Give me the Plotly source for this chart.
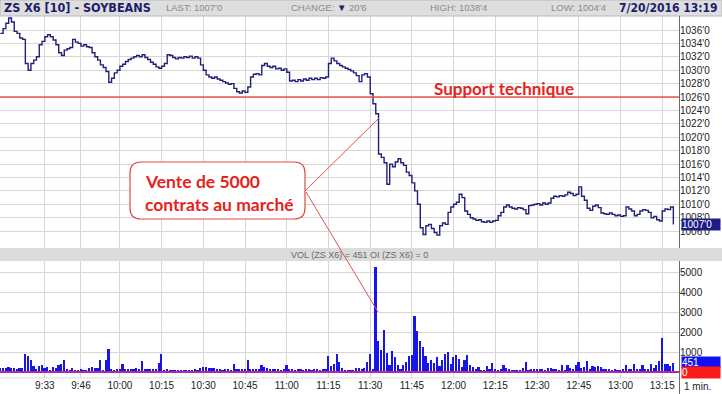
import plotly.graph_objects as go
import pandas as pd

W, H = 722, 394

# ---------------- data (1-minute bars, 20 Jul 2016) ----------------
start_time = "2016-07-20 09:17"
close_prices = [
    1035.5, 1036.2, 1037.0, 1037.8, 1037.2, 1035.8, 1035.5, 1034.8, 1034.6, 1031.0,  # 9:17
    1030.0, 1031.0, 1031.5, 1032.0, 1033.8, 1034.3, 1035.0, 1035.3, 1035.0, 1034.5,  # 9:27
    1033.8, 1032.6, 1032.2, 1033.0, 1033.2, 1033.4, 1034.6, 1034.2, 1034.0, 1033.6,  # 9:37
    1033.8, 1033.5, 1033.4, 1032.6, 1032.0, 1031.5, 1030.8, 1030.4, 1029.8, 1028.2,  # 9:47
    1028.8, 1029.6, 1030.0, 1030.6, 1030.9, 1031.3, 1031.6, 1031.8, 1032.0, 1032.2,  # 9:57
    1032.0, 1032.3, 1031.9, 1031.6, 1031.2, 1030.9, 1030.5, 1030.3, 1030.6, 1031.0,  # 10:07
    1032.3, 1032.2, 1031.9, 1031.7, 1031.9, 1031.8, 1032.0, 1031.9, 1032.1, 1031.8,  # 10:17
    1032.0, 1031.8, 1030.8, 1030.0, 1029.3, 1029.0, 1028.8, 1029.0, 1028.7, 1028.5,  # 10:27
    1028.3, 1028.1, 1027.9, 1028.0, 1027.3, 1026.8, 1026.6, 1026.9, 1026.7, 1027.5,  # 10:37
    1029.0, 1029.4, 1029.5, 1029.3, 1030.7, 1031.0, 1030.6, 1030.4, 1030.6, 1030.2,  # 10:47
    1030.3, 1030.0, 1030.2, 1029.7, 1028.4, 1028.5, 1028.3, 1028.6, 1028.4, 1028.7,  # 10:57
    1028.5, 1028.8, 1028.6, 1028.8, 1028.6, 1028.9, 1028.8, 1029.0, 1031.0, 1031.8,  # 11:07
    1031.4, 1031.0, 1030.7, 1030.5, 1030.3, 1030.1, 1029.9, 1029.6, 1029.2, 1028.3,  # 11:17
    1029.3, 1029.5, 1029.0, 1026.5, 1025.0, 1023.5, 1017.5, 1017.0, 1016.2, 1013.0,  # 11:27
    1016.0, 1015.6, 1016.3, 1016.8, 1016.2, 1015.8, 1014.8, 1014.3, 1013.2, 1012.0,  # 11:37
    1010.0, 1006.5, 1005.5, 1006.8, 1007.0, 1006.4, 1005.8, 1005.4, 1006.8, 1007.2,  # 11:47
    1007.0, 1008.8, 1009.6, 1010.0, 1010.3, 1011.5, 1011.0, 1009.0, 1008.5, 1008.0,  # 11:57
    1007.8, 1007.6, 1007.7, 1007.4, 1007.3, 1007.5, 1007.3, 1007.5, 1007.6, 1008.3,  # 12:07
    1008.8, 1009.6, 1009.9, 1009.6, 1009.4, 1009.3, 1009.5, 1009.4, 1009.2, 1008.6,  # 12:17
    1009.8, 1009.9, 1010.0, 1010.1, 1009.9, 1010.2, 1010.0, 1010.2, 1010.9, 1011.2,  # 12:27
    1011.1, 1011.3, 1011.2, 1011.4, 1011.8, 1011.6, 1011.3, 1011.5, 1012.6, 1011.2,  # 12:37
    1010.6, 1009.4, 1009.1, 1009.7, 1009.9, 1009.5, 1008.7, 1008.6, 1008.5, 1008.7,  # 12:47
    1008.5, 1008.3, 1008.4, 1008.2, 1008.3, 1009.6, 1009.3, 1009.0, 1008.3, 1008.5,  # 12:57
    1009.0, 1009.2, 1009.1, 1008.8, 1008.0, 1008.2, 1007.7, 1007.5, 1009.0, 1009.3,  # 13:07
    1009.2, 1009.6, 1007.0,                                                          # 13:17
]
volumes = [
    180, 220, 200, 240, 180, 200, 170, 200, 210, 920,
    780, 580, 280, 170, 280, 330, 220, 250, 120, 250,
    220, 330, 380, 620, 170, 120, 200, 120, 110, 130,
    120, 110, 220, 230, 220, 200, 620, 120, 580, 1130,
    150, 120, 130, 170, 380, 170, 150, 170, 130, 220,
    150, 530, 150, 130, 170, 150, 160, 470, 920, 120,
    170, 120, 110, 100, 100, 120, 110, 100, 120, 110,
    130, 120, 220, 240, 260, 200, 220, 180, 130, 130,
    120, 170, 130, 120, 380, 140, 150, 130, 170, 580,
    150, 170, 130, 150, 330, 250, 200, 150, 170, 130,
    150, 120, 170, 330, 130, 150, 120, 130, 150, 120,
    150, 130, 120, 170, 130, 120, 150, 130, 800, 300,
    420, 920, 500, 220, 120, 100, 100, 110, 200, 200,
    150, 220, 500, 880, 170, 5230, 1530, 1080, 2080, 950,
    330, 1050, 750, 330, 170, 330, 500, 780, 830, 2790,
    2040, 1550, 1250, 780, 450, 580, 450, 750, 280, 580,
    880, 1000, 420, 750, 830, 670, 250, 580, 870, 330,
    250, 170, 250, 120, 80, 280, 170, 450, 130, 80,
    130, 330, 200, 150, 80, 80, 80, 80, 200, 500,
    80, 170, 170, 130, 150, 130, 80, 220, 220, 170,
    130, 120, 330, 120, 330, 220, 130, 330, 500, 200,
    250, 530, 170, 280, 250, 280, 250, 130, 130, 170,
    120, 170, 120, 80, 170, 330, 130, 170, 380, 130,
    170, 330, 130, 170, 380, 220, 330, 530, 1700, 420,
    380, 280, 451,
]
time_labels = ["9:33", "9:46", "10:00", "10:15", "10:30", "10:45", "11:00", "11:15",
               "11:30", "11:45", "12:00", "12:15", "12:30", "12:45", "13:00", "13:15"]
price_ticks = [1036, 1034, 1032, 1030, 1028, 1026, 1024, 1022, 1020, 1018,
               1016, 1014, 1012, 1010, 1008, 1006]
volume_ticks = [1000, 2000, 3000, 4000, 5000]
support_level = 1026
last_volume = 451
open_interest = 0

symbol_title = "ZS X6 [10] - SOYBEANS"
last_txt, change_txt, high_txt, low_txt = "1007'0", "20'6", "1038'4", "1004'4"
stamp_txt = "7/20/2016 13:19"

# ---------------- helpers ----------------
def fx(p):
    return p / W

def fy(p):
    return 1 - p / H

def quote(v):
    return f"{int(v)}'0"

times = pd.date_range(start_time, periods=len(close_prices), freq="min")
day = "2016-07-20 "
tickvals = [pd.Timestamp(day + t) for t in time_labels]
x_range = ["2016-07-20 09:16:53", "2016-07-20 13:21:02"]

RIGHT = 679
GRID = "#d7d7d7"
NAVY = "#202078"
AXFONT = dict(family="Liberation Sans, Arial, sans-serif", size=10, color="#222")

fig = go.Figure()
fig.add_trace(go.Scatter(
    x=times, y=close_prices, mode="lines",
    line=dict(color=NAVY, width=1.4, shape="hv"),
    xaxis="x", yaxis="y", hoverinfo="skip", showlegend=False))
fig.add_trace(go.Bar(
    x=times, y=volumes, width=36000,
    marker=dict(color="#1616ea", line_width=0),
    xaxis="x2", yaxis="y2", hoverinfo="skip", showlegend=False))

common_x = dict(domain=[0, fx(RIGHT)], type="date", range=x_range,
                tickvals=tickvals, ticktext=time_labels, showgrid=True,
                gridcolor=GRID, gridwidth=1, zeroline=False, ticks="",
                showline=False, tickfont=AXFONT)

fig.update_layout(
    width=W, height=H, margin=dict(l=0, r=0, t=0, b=0),
    paper_bgcolor="white", plot_bgcolor="white", bargap=0,
    xaxis=dict(common_x, anchor="y", showticklabels=False),
    xaxis2=dict(common_x, anchor="y2", showticklabels=True),
    yaxis=dict(domain=[fy(248), fy(16)], range=[1003.48, 1038.09], side="right",
               anchor="x", tickvals=price_ticks, ticktext=[quote(v) for v in price_ticks],
               showgrid=True, gridcolor=GRID, zeroline=False, ticks="",
               tickfont=AXFONT, showline=False),
    yaxis2=dict(domain=[fy(378), fy(261)], range=[-300, 5550], side="right",
                anchor="x2", tickvals=volume_ticks, ticktext=[str(v) for v in volume_ticks],
                showgrid=True, gridcolor=GRID, zeroline=False, ticks="",
                tickfont=AXFONT, showline=False),
)

# rounded callout box path (paper coordinates)
def rounded_rect(x0, y0, x1, y1, r):
    pts = [
        ("M", x0 + r, y0), ("L", x1 - r, y0), ("Q", x1, y0, x1, y0 + r),
        ("L", x1, y1 - r), ("Q", x1, y1, x1 - r, y1), ("L", x0 + r, y1),
        ("Q", x0, y1, x0, y1 - r), ("L", x0, y0 + r), ("Q", x0, y0, x0 + r, y0),
    ]
    out = []
    for p in pts:
        cmd = p[0]
        coords = p[1:]
        s = []
        for i in range(0, len(coords), 2):
            s.append(f"{fx(coords[i]):.5f},{fy(coords[i + 1]):.5f}")
        out.append(cmd + " ".join(s))
    return " ".join(out) + " Z"

shapes = [
    # header bar
    dict(type="rect", xref="paper", yref="paper", x0=0, x1=1, y0=fy(16), y1=1,
         fillcolor="#dedede", line=dict(color="#b8b8b8", width=1), layer="above"),
    # right axis line
    dict(type="line", xref="paper", yref="paper", x0=fx(RIGHT + 0.5), x1=fx(RIGHT + 0.5),
         y0=0, y1=fy(16), line=dict(color="#6a6a6a", width=1), layer="above"),
    # VOL separator bar
    dict(type="rect", xref="paper", yref="paper", x0=0, x1=1, y0=fy(261), y1=fy(248),
         fillcolor="#dcdcdc", line=dict(width=0), layer="above"),
    # bottom label-row line
    dict(type="line", xref="paper", yref="paper", x0=0, x1=fx(RIGHT), y0=fy(378), y1=fy(378),
         line=dict(color="#dcdcdc", width=1), layer="above"),
    # support line
    dict(type="line", xref="paper", yref="y", x0=0, x1=fx(RIGHT), y0=support_level,
         y1=support_level, line=dict(color="#e8554f", width=1.5), layer="above"),
    # OI line at zero
    dict(type="line", xref="paper", yref="y2", x0=0, x1=fx(RIGHT), y0=open_interest,
         y1=open_interest, line=dict(color="#b22a9c", width=2), layer="above"),
    # callout pointers
    dict(type="line", xref="paper", yref="paper", x0=fx(306), y0=fy(190), x1=fx(379), y1=fy(118),
         line=dict(color="#e05252", width=1), layer="above"),
    dict(type="line", xref="paper", yref="paper", x0=fx(306), y0=fy(192), x1=fx(378), y1=fy(312),
         line=dict(color="#e05252", width=1), layer="above"),
    # callout box
    dict(type="path", xref="paper", yref="paper", path=rounded_rect(130, 162, 305, 219, 11),
         fillcolor="white", line=dict(color="#e04848", width=1.2), layer="above"),
]
fig.update_layout(shapes=shapes)

HFONT = "Liberation Sans Narrow, DejaVu Sans Condensed, Arial Narrow, sans-serif"
GFONT = dict(family="Liberation Sans, Arial, sans-serif", size=9.5, color="#8a8a8a")
ann = [
    dict(text=f"<b>{symbol_title}</b>", x=fx(2), y=fy(8), xanchor="left",
         font=dict(family=HFONT, size=12.5, color="#1c1c6a")),
    dict(text=f"LAST: {last_txt}", x=fx(164), y=fy(8), xanchor="left", font=GFONT),
    dict(text=f"CHANGE: <span style='color:#1c1c6a'>▼</span> {change_txt}", x=fx(289), y=fy(8),
         xanchor="left", font=GFONT),
    dict(text=f"HIGH: {high_txt}", x=fx(428), y=fy(8), xanchor="left", font=GFONT),
    dict(text=f"LOW: {low_txt}", x=fx(549), y=fy(8), xanchor="left", font=GFONT),
    dict(text=f"<b>{stamp_txt}</b>", x=fx(720), y=fy(8), xanchor="right",
         font=dict(family=HFONT, size=12, color="#1c1c6a")),
    dict(text=f"VOL (ZS X6) = {last_volume} OI (ZS X6) = {open_interest}", x=fx(359), y=fy(254.5),
         xanchor="center", font=dict(family="Liberation Sans, Arial, sans-serif", size=9, color="#6a6a6a")),
    dict(text="<b>Support technique</b>", x=fx(432), y=fy(88), xanchor="left",
         font=dict(family="Lato, Open Sans, sans-serif", size=17, color="#e5231c")),
    dict(text="<b>Vente de 5000</b>", x=fx(143), y=fy(181.5), xanchor="left",
         font=dict(family="Lato, Open Sans, sans-serif", size=17.5, color="#e5231c")),
    dict(text="<b>contrats au marché</b>", x=fx(143), y=fy(205), xanchor="left",
         font=dict(family="Lato, Open Sans, sans-serif", size=17.5, color="#e5231c")),
    dict(text=last_txt, x=fx(681), y=close_prices[-1], yref="y", xanchor="left", align="left",
         width=38, borderpad=0, bgcolor="#1c1c84",
         font=dict(family="Liberation Sans, Arial, sans-serif", size=10, color="white")),
    dict(text=str(last_volume), x=fx(681), y=last_volume, yref="y2", xanchor="left", align="left",
         width=38, borderpad=0, bgcolor="#1010f0",
         font=dict(family="Liberation Sans, Arial, sans-serif", size=10, color="white")),
    dict(text=str(open_interest), x=fx(681), y=open_interest, yref="y2", xanchor="left", align="left",
         width=38, borderpad=0, bgcolor="#ff1a1a",
         font=dict(family="Liberation Sans, Arial, sans-serif", size=10, color="white")),
    dict(text="1 min.", x=fx(697), y=fy(386), xanchor="center",
         font=dict(family="Liberation Sans, Arial, sans-serif", size=10, color="#222")),
]
for a in ann:
    a.setdefault("xref", "paper")
    a.setdefault("yref", "paper")
    a.setdefault("yanchor", "middle")
    a["showarrow"] = False
fig.update_layout(annotations=ann)

fig.write_html("out.html")
